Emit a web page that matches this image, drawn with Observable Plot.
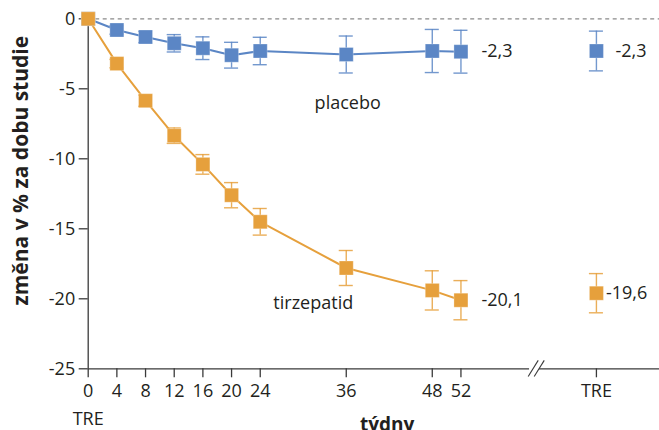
<!DOCTYPE html>
<html>
<head>
<meta charset="utf-8">
<script src="https://cdn.jsdelivr.net/npm/d3@7"></script>
<script src="https://cdn.jsdelivr.net/npm/@observablehq/plot@0.6"></script>
<style>
html,body{margin:0;padding:0;background:#fff;overflow:hidden;}
</style>
</head>
<body>
<div id="chart"></div>
<script>
// ---- data ----
const weeks = [0, 4, 8, 12, 16, 20, 24, 36, 48, 52];
const placebo = [0, -0.8, -1.3, -1.75, -2.1, -2.6, -2.3, -2.55, -2.3, -2.35];
const placeboErr = [0, 0.3, 0.4, 0.62, 0.81, 0.92, 0.98, 1.32, 1.54, 1.53];
const tirzepatid = [0, -3.2, -5.85, -8.35, -10.4, -12.6, -14.5, -17.8, -19.4, -20.1];
const tirzepatidErr = [0, 0.3, 0.4, 0.55, 0.7, 0.9, 0.95, 1.25, 1.4, 1.4];
const treWeek = 70.9;           // position of the separate "TRE" category
const trePlacebo = -2.3, trePlaceboErr = 1.42;
const treTirzepatid = -19.6, treTirzepatidErr = 1.4;
const xTickValues = [0, 4, 8, 12, 16, 20, 24, 36, 48, 52];
const yTickValues = [0, -5, -10, -15, -20, -25];
const seriesNames = ["placebo", "tirzepatid"];
const endValues = [-2.3, -20.1];
const colors = {placebo: "#5b86c5", tirzepatid: "#e6a03c"};

// ---- tables ----
const line = [];
weeks.forEach((w, i) => {
  line.push({series: "placebo", week: w, value: placebo[i], err: placeboErr[i]});
  line.push({series: "tirzepatid", week: w, value: tirzepatid[i], err: tirzepatidErr[i]});
});
const tre = [
  {series: "placebo", week: treWeek, value: trePlacebo, err: trePlaceboErr},
  {series: "tirzepatid", week: treWeek, value: treTirzepatid, err: treTirzepatidErr}
];
const allPts = line.concat(tre);
const errPts = allPts.filter(d => d.err > 0);
const fmt = v => String(v).replace(".", ",");
const col = d => colors[d.series];
const txt = "#231f20";

const chart = Plot.plot({
  width: 659,
  height: 430,
  marginLeft: 87.7,
  marginRight: 0,
  marginTop: 18.3,
  marginBottom: 61.7,
  style: {fontFamily: "'Open Sans', sans-serif", fontSize: "18px", color: txt, background: "#fff"},
  x: {domain: [0, 79.7], axis: null},
  y: {domain: [-25, 0], axis: null},
  marks: [
    Plot.ruleY([0], {stroke: "#8a8a8a", strokeWidth: 1.3, strokeDasharray: "4,3.5"}),
    Plot.ruleY([-25], {stroke: "#3a3a3a", strokeWidth: 1.3}),
    Plot.ruleX([0], {y1: -25, y2: 0, stroke: "#3a3a3a", strokeWidth: 1.3}),
    // axis break
    Plot.link([63], {x1: d => d - 1.5, x2: d => d - 0.1, y1: -25, y2: -25, stroke: "white", strokeWidth: 4}),
    Plot.link([0, 0.84], {x1: d => 61.38 + d, y1: -25.55, x2: d => 62.78 + d, y2: -24.4, stroke: "#3a3a3a", strokeWidth: 1.1}),
    // axes
    Plot.axisX(xTickValues.concat([treWeek]), {
      anchor: "bottom", label: null, tickSize: 9, tickPadding: 6, stroke: "#3a3a3a", strokeWidth: 1.3,
      fontSize: 18, fill: txt,
      tickFormat: d => d === treWeek ? "TRE" : String(d)
    }),
    Plot.axisY(yTickValues, {
      anchor: "left", label: null, tickSize: 9, tickPadding: 4, stroke: "#3a3a3a", strokeWidth: 1.3,
      fontSize: 18, fill: txt, tickFormat: d => String(d)
    }),
    Plot.text(["TRE"], {x: 0, y: -25, dy: 50, fontSize: 18, fill: txt}),
    Plot.text(["týdny"], {x: 41.7, y: -25, dy: 56, fontSize: 19, fontWeight: "bold", fill: txt}),
    Plot.text(["změna v % za dobu studie"], {x: 0, y: -10.85, dx: -67, rotate: -90, fontSize: 21, fontWeight: "bold", fill: txt, style: {letterSpacing: "1.3px"}}),
    // lines
    Plot.line(line, {x: "week", y: "value", z: "series", stroke: col, strokeWidth: 2}),
    // error bars
    Plot.ruleX(errPts, {x: "week", y1: d => d.value - d.err, y2: d => d.value + d.err, stroke: col, strokeWidth: 1.4, strokeOpacity: 0.85}),
    Plot.ruleY(errPts, {y: d => d.value - d.err, x1: d => d.week - 0.98, x2: d => d.week + 0.98, stroke: col, strokeWidth: 1.4, strokeOpacity: 0.85}),
    Plot.ruleY(errPts, {y: d => d.value + d.err, x1: d => d.week - 0.98, x2: d => d.week + 0.98, stroke: col, strokeWidth: 1.4, strokeOpacity: 0.85}),
    // markers
    Plot.dot(allPts, {x: "week", y: "value", symbol: "square", r: 7.9, fill: col, stroke: "white", strokeOpacity: 0.35, strokeWidth: 0.8}),
    // value labels
    Plot.text(endValues, {x: 52, y: d => d, text: d => fmt(d), dx: 20.5, textAnchor: "start", fontSize: 18, fill: txt}),
    Plot.text([trePlacebo], {x: treWeek, y: d => d, text: d => fmt(d), dx: 19, textAnchor: "start", fontSize: 18, fill: txt}),
    Plot.text([treTirzepatid], {x: treWeek, y: d => d, text: d => fmt(d), dx: 9.5, textAnchor: "start", fontSize: 18, fill: txt}),
    // series names
    Plot.text([seriesNames[0]], {x: 36.2, y: -6.0, fontSize: 18, fill: txt}),
    Plot.text([seriesNames[1]], {x: 31.4, y: -20.3, fontSize: 18, fill: txt})
  ]
});
document.getElementById("chart").appendChild(chart);
</script>
</body>
</html>
